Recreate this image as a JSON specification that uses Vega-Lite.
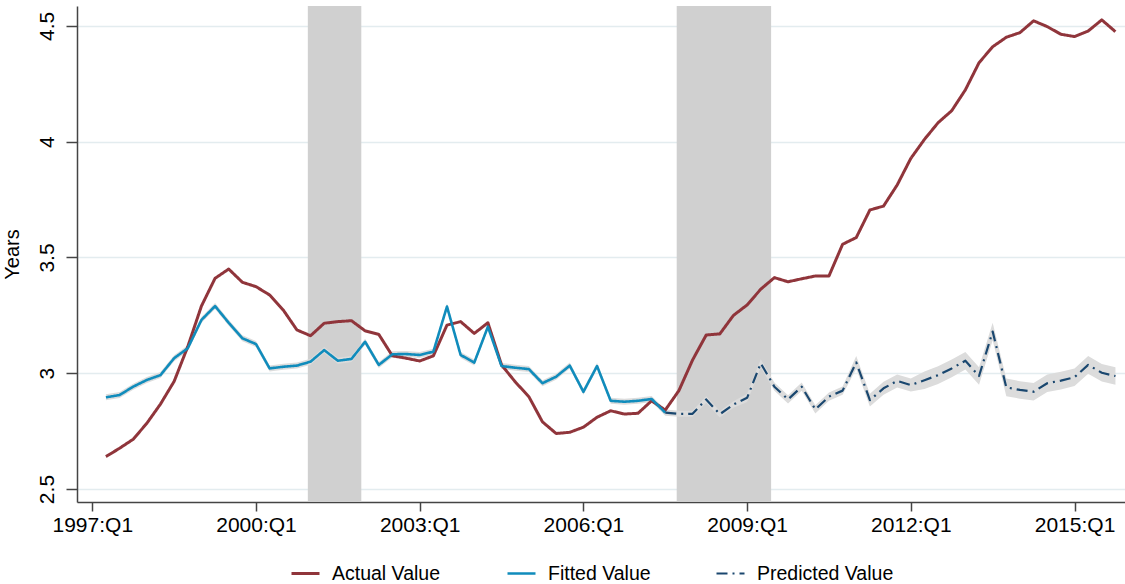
{
  "$schema": "https://vega.github.io/schema/vega-lite/v6.json",
  "width": 1048,
  "height": 496,
  "autosize": {"type": "none"},
  "padding": {"left": 77, "top": 6, "right": 0, "bottom": 82},
  "config": {
    "view": {"stroke": null},
    "font": "Liberation Sans",
    "axis": {
      "labelFont": "Liberation Sans", "labelFontSize": 21, "labelColor": "#000000",
      "titleFont": "Liberation Sans", "titleFontSize": 20, "titleFontWeight": "normal", "titleColor": "#000000",
      "domainColor": "#444444", "domainWidth": 1.5, "tickColor": "#444444", "tickWidth": 1.5,
      "gridColor": "#e3ecef", "gridWidth": 1.5
    },
    "axisX": {"tickSize": 9, "labelPadding": 3},
    "axisY": {"tickSize": 11, "labelPadding": 9, "titlePadding": 14, "labelAlign": "center", "labelBaseline": "bottom"},
    "legend": {
      "orient": "none", "legendX": 213, "legendY": 552, "direction": "horizontal",
      "symbolType": "stroke", "symbolSize": 784, "labelFont": "Liberation Sans", "labelFontSize": 19.5,
      "labelColor": "#000000", "labelOffset": 11, "columnPadding": 61
    }
  },
  "datasets": {
    "rec": [
      {"start": 2000.95, "end": 2001.93},
      {"start": 2007.71, "end": 2009.44}
    ],
    "q": [
      {"t": 1997.25, "Actual Value": 2.64, "Fitted Value": 2.896, "lo": 2.883, "hi": 2.909},
      {"t": 1997.5, "Actual Value": 2.676, "Fitted Value": 2.906, "lo": 2.893, "hi": 2.919},
      {"t": 1997.75, "Actual Value": 2.715, "Fitted Value": 2.942, "lo": 2.929, "hi": 2.955},
      {"t": 1998, "Actual Value": 2.784, "Fitted Value": 2.971, "lo": 2.958, "hi": 2.984},
      {"t": 1998.25, "Actual Value": 2.867, "Fitted Value": 2.992, "lo": 2.979, "hi": 3.005},
      {"t": 1998.5, "Actual Value": 2.965, "Fitted Value": 3.065, "lo": 3.052, "hi": 3.078},
      {"t": 1998.75, "Actual Value": 3.115, "Fitted Value": 3.108, "lo": 3.095, "hi": 3.121},
      {"t": 1999, "Actual Value": 3.29, "Fitted Value": 3.23, "lo": 3.217, "hi": 3.243},
      {"t": 1999.25, "Actual Value": 3.41, "Fitted Value": 3.29, "lo": 3.277, "hi": 3.303},
      {"t": 1999.5, "Actual Value": 3.45, "Fitted Value": 3.218, "lo": 3.205, "hi": 3.231},
      {"t": 1999.75, "Actual Value": 3.393, "Fitted Value": 3.151, "lo": 3.138, "hi": 3.164},
      {"t": 2000, "Actual Value": 3.374, "Fitted Value": 3.126, "lo": 3.113, "hi": 3.139},
      {"t": 2000.25, "Actual Value": 3.338, "Fitted Value": 3.021, "lo": 3.008, "hi": 3.034},
      {"t": 2000.5, "Actual Value": 3.273, "Fitted Value": 3.028, "lo": 3.015, "hi": 3.041},
      {"t": 2000.75, "Actual Value": 3.187, "Fitted Value": 3.033, "lo": 3.020, "hi": 3.046},
      {"t": 2001, "Actual Value": 3.162, "Fitted Value": 3.05, "lo": 3.037, "hi": 3.063},
      {"t": 2001.25, "Actual Value": 3.216, "Fitted Value": 3.1, "lo": 3.087, "hi": 3.113},
      {"t": 2001.5, "Actual Value": 3.223, "Fitted Value": 3.054, "lo": 3.041, "hi": 3.067},
      {"t": 2001.75, "Actual Value": 3.227, "Fitted Value": 3.062, "lo": 3.049, "hi": 3.075},
      {"t": 2002, "Actual Value": 3.183, "Fitted Value": 3.136, "lo": 3.123, "hi": 3.149},
      {"t": 2002.25, "Actual Value": 3.168, "Fitted Value": 3.036, "lo": 3.023, "hi": 3.049},
      {"t": 2002.5, "Actual Value": 3.075, "Fitted Value": 3.082, "lo": 3.069, "hi": 3.095},
      {"t": 2002.75, "Actual Value": 3.065, "Fitted Value": 3.083, "lo": 3.070, "hi": 3.096},
      {"t": 2003, "Actual Value": 3.053, "Fitted Value": 3.079, "lo": 3.066, "hi": 3.092},
      {"t": 2003.25, "Actual Value": 3.075, "Fitted Value": 3.093, "lo": 3.080, "hi": 3.106},
      {"t": 2003.5, "Actual Value": 3.208, "Fitted Value": 3.288, "lo": 3.275, "hi": 3.301},
      {"t": 2003.75, "Actual Value": 3.223, "Fitted Value": 3.079, "lo": 3.066, "hi": 3.092},
      {"t": 2004, "Actual Value": 3.172, "Fitted Value": 3.046, "lo": 3.033, "hi": 3.059},
      {"t": 2004.25, "Actual Value": 3.218, "Fitted Value": 3.201, "lo": 3.188, "hi": 3.214},
      {"t": 2004.5, "Actual Value": 3.036, "Fitted Value": 3.031, "lo": 3.018, "hi": 3.044},
      {"t": 2004.75, "Actual Value": 2.963, "Fitted Value": 3.024, "lo": 3.011, "hi": 3.037},
      {"t": 2005, "Actual Value": 2.899, "Fitted Value": 3.018, "lo": 3.005, "hi": 3.031},
      {"t": 2005.25, "Actual Value": 2.79, "Fitted Value": 2.957, "lo": 2.944, "hi": 2.970},
      {"t": 2005.5, "Actual Value": 2.74, "Fitted Value": 2.985, "lo": 2.972, "hi": 2.998},
      {"t": 2005.75, "Actual Value": 2.745, "Fitted Value": 3.033, "lo": 3.020, "hi": 3.046},
      {"t": 2006, "Actual Value": 2.767, "Fitted Value": 2.92, "lo": 2.907, "hi": 2.933},
      {"t": 2006.25, "Actual Value": 2.81, "Fitted Value": 3.031, "lo": 3.018, "hi": 3.044},
      {"t": 2006.5, "Actual Value": 2.838, "Fitted Value": 2.881, "lo": 2.868, "hi": 2.894},
      {"t": 2006.75, "Actual Value": 2.824, "Fitted Value": 2.877, "lo": 2.864, "hi": 2.890},
      {"t": 2007, "Actual Value": 2.827, "Fitted Value": 2.881, "lo": 2.868, "hi": 2.894},
      {"t": 2007.25, "Actual Value": 2.881, "Fitted Value": 2.889, "lo": 2.876, "hi": 2.902},
      {"t": 2007.5, "Actual Value": 2.841, "Fitted Value": 2.83, "Predicted Value": 2.83, "lo": 2.817, "hi": 2.843},
      {"t": 2007.75, "Actual Value": 2.925, "Predicted Value": 2.825, "lo": 2.812, "hi": 2.838},
      {"t": 2008, "Actual Value": 3.057, "Predicted Value": 2.825, "lo": 2.812, "hi": 2.838},
      {"t": 2008.25, "Actual Value": 3.165, "Predicted Value": 2.887, "lo": 2.873, "hi": 2.901},
      {"t": 2008.5, "Actual Value": 3.17, "Predicted Value": 2.823, "lo": 2.809, "hi": 2.837},
      {"t": 2008.75, "Actual Value": 3.25, "Predicted Value": 2.865, "lo": 2.851, "hi": 2.879},
      {"t": 2009, "Actual Value": 3.295, "Predicted Value": 2.894, "lo": 2.876, "hi": 2.912},
      {"t": 2009.25, "Actual Value": 3.363, "Predicted Value": 3.043, "lo": 3.025, "hi": 3.061},
      {"t": 2009.5, "Actual Value": 3.413, "Predicted Value": 2.942, "lo": 2.924, "hi": 2.960},
      {"t": 2009.75, "Actual Value": 3.395, "Predicted Value": 2.887, "lo": 2.869, "hi": 2.905},
      {"t": 2010, "Actual Value": 3.408, "Predicted Value": 2.942, "lo": 2.924, "hi": 2.960},
      {"t": 2010.25, "Actual Value": 3.42, "Predicted Value": 2.844, "lo": 2.826, "hi": 2.862},
      {"t": 2010.5, "Actual Value": 3.42, "Predicted Value": 2.899, "lo": 2.881, "hi": 2.917},
      {"t": 2010.75, "Actual Value": 3.557, "Predicted Value": 2.925, "lo": 2.907, "hi": 2.943},
      {"t": 2011, "Actual Value": 3.586, "Predicted Value": 3.047, "lo": 3.019, "hi": 3.075},
      {"t": 2011.25, "Actual Value": 3.705, "Predicted Value": 2.884, "lo": 2.856, "hi": 2.912},
      {"t": 2011.5, "Actual Value": 3.722, "Predicted Value": 2.935, "lo": 2.907, "hi": 2.963},
      {"t": 2011.75, "Actual Value": 3.813, "Predicted Value": 2.967, "lo": 2.939, "hi": 2.995},
      {"t": 2012, "Actual Value": 3.928, "Predicted Value": 2.949, "lo": 2.921, "hi": 2.977},
      {"t": 2012.25, "Actual Value": 4.01, "Predicted Value": 2.97, "lo": 2.932, "hi": 3.008},
      {"t": 2012.5, "Actual Value": 4.082, "Predicted Value": 2.992, "lo": 2.954, "hi": 3.030},
      {"t": 2012.75, "Actual Value": 4.134, "Predicted Value": 3.021, "lo": 2.983, "hi": 3.059},
      {"t": 2013, "Actual Value": 4.224, "Predicted Value": 3.054, "lo": 3.016, "hi": 3.092},
      {"t": 2013.25, "Actual Value": 4.341, "Predicted Value": 2.988, "lo": 2.950, "hi": 3.026},
      {"t": 2013.5, "Actual Value": 4.41, "Predicted Value": 3.18, "lo": 3.142, "hi": 3.218},
      {"t": 2013.75, "Actual Value": 4.451, "Predicted Value": 2.939, "lo": 2.901, "hi": 2.977},
      {"t": 2014, "Actual Value": 4.471, "Predicted Value": 2.928, "lo": 2.890, "hi": 2.966},
      {"t": 2014.25, "Actual Value": 4.522, "Predicted Value": 2.92, "lo": 2.882, "hi": 2.958},
      {"t": 2014.5, "Actual Value": 4.497, "Predicted Value": 2.957, "lo": 2.919, "hi": 2.995},
      {"t": 2014.75, "Actual Value": 4.464, "Predicted Value": 2.968, "lo": 2.930, "hi": 3.006},
      {"t": 2015, "Actual Value": 4.454, "Predicted Value": 2.983, "lo": 2.945, "hi": 3.021},
      {"t": 2015.25, "Actual Value": 4.478, "Predicted Value": 3.036, "lo": 2.998, "hi": 3.074},
      {"t": 2015.5, "Actual Value": 4.526, "Predicted Value": 3.002, "lo": 2.964, "hi": 3.040},
      {"t": 2015.75, "Actual Value": 4.475, "Predicted Value": 2.988, "lo": 2.950, "hi": 3.026}
    ]
  },
  "layer": [
    {
      "data": {"name": "rec"},
      "mark": {"type": "rect", "color": "#d0d0d0"},
      "encoding": {
        "x": {
          "field": "start", "type": "quantitative",
          "scale": {"domain": [1996.72, 2015.925], "nice": false, "zero": false},
          "axis": {"values": [1997, 2000, 2003, 2006, 2009, 2012, 2015], "labelExpr": "datum.value + ':Q1'", "title": null, "grid": false}
        },
        "x2": {"field": "end"}
      }
    },
    {
      "data": {"name": "q"},
      "mark": {"type": "area", "color": "#dcdcdc", "opacity": 1},
      "encoding": {
        "x": {
          "field": "t", "type": "quantitative",
          "scale": {"domain": [1996.72, 2015.925], "nice": false, "zero": false},
          "axis": {"values": [1997, 2000, 2003, 2006, 2009, 2012, 2015], "labelExpr": "datum.value + ':Q1'", "title": null, "grid": false}
        },
        "y": {
          "field": "lo", "type": "quantitative",
          "scale": {"domain": [2.444, 4.586], "nice": false, "zero": false},
          "axis": {"values": [2.5, 3, 3.5, 4, 4.5], "format": "~g", "title": "Years", "grid": true, "labelAngle": -90}
        },
        "y2": {"field": "hi"}
      }
    },
    {
      "data": {"name": "q"},
      "transform": [
        {"fold": ["Actual Value", "Fitted Value", "Predicted Value"], "as": ["series", "value"]},
        {"filter": "isValid(datum.value)"}
      ],
      "mark": {"type": "line", "strokeJoin": "round"},
      "encoding": {
        "x": {
          "field": "t", "type": "quantitative",
          "scale": {"domain": [1996.72, 2015.925], "nice": false, "zero": false},
          "axis": {"values": [1997, 2000, 2003, 2006, 2009, 2012, 2015], "labelExpr": "datum.value + ':Q1'", "title": null, "grid": false}
        },
        "y": {
          "field": "value", "type": "quantitative",
          "scale": {"domain": [2.444, 4.586], "nice": false, "zero": false},
          "axis": {"values": [2.5, 3, 3.5, 4, 4.5], "format": "~g", "title": "Years", "grid": true, "labelAngle": -90}
        },
        "color": {
          "field": "series", "type": "nominal",
          "scale": {"domain": ["Actual Value", "Fitted Value", "Predicted Value"], "range": ["#90353B", "#108CBC", "#1A476F"]},
          "legend": {"title": null}
        },
        "strokeDash": {
          "field": "series", "type": "nominal",
          "scale": {"domain": ["Actual Value", "Fitted Value", "Predicted Value"], "range": [[1, 0], [1, 0], [11, 5, 2, 5]]},
          "legend": {"title": null}
        },
        "strokeWidth": {
          "field": "series", "type": "nominal",
          "scale": {"domain": ["Actual Value", "Fitted Value", "Predicted Value"], "range": [3, 2.2, 2.4]},
          "legend": {"title": null}
        }
      }
    }
  ]
}
